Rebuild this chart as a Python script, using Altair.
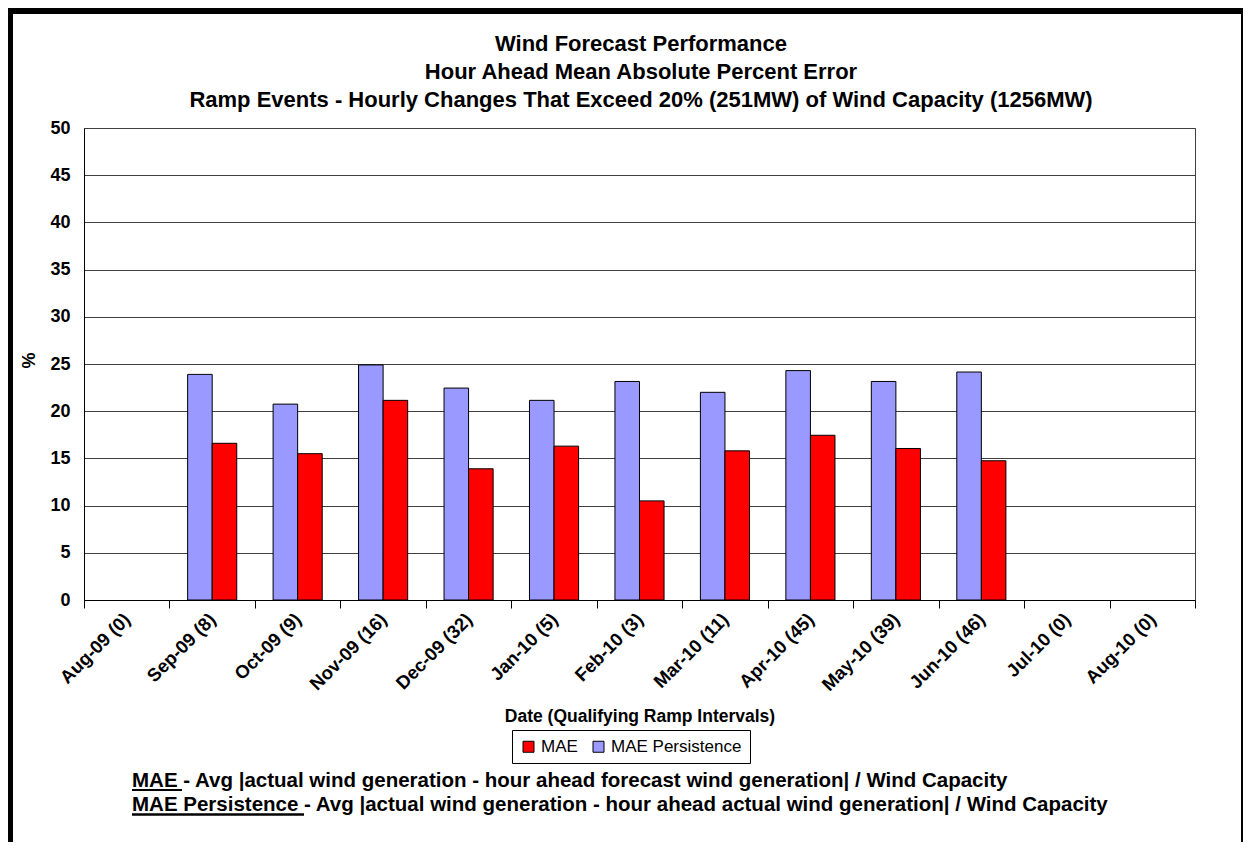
import altair as alt
import pandas as pd

months = ["Aug-09 (0)", "Sep-09 (8)", "Oct-09 (9)", "Nov-09 (16)", "Dec-09 (32)",
          "Jan-10 (5)", "Feb-10 (3)", "Mar-10 (11)", "Apr-10 (45)", "May-10 (39)",
          "Jun-10 (46)", "Jul-10 (0)", "Aug-10 (0)"]
bar_months = months[1:11]
mae = [16.6, 15.5, 21.15, 13.9, 16.3, 10.5, 15.8, 17.45, 16.05, 14.75]
mae_persistence = [23.9, 20.75, 24.9, 22.45, 21.15, 23.15, 22.0, 24.3, 23.15, 24.15]

series = ["MAE", "MAE Persistence"]
colors = ["#FF0000", "#9999FF"]

title_lines = ["Wind Forecast Performance",
               "Hour Ahead Mean Absolute Percent Error",
               "Ramp Events - Hourly Changes That Exceed 20% (251MW) of Wind Capacity (1256MW)"]
x_title = "Date (Qualifying Ramp Intervals)"
note1 = "MAE - Avg |actual wind generation - hour ahead forecast wind generation| / Wind Capacity"
note2 = "MAE Persistence - Avg |actual wind generation - hour ahead actual wind generation| / Wind Capacity"

rows = []
for m, a, p in zip(bar_months, mae, mae_persistence):
    rows.append({"month": m, "series": "MAE Persistence", "value": p})
    rows.append({"month": m, "series": "MAE", "value": a})
df = pd.DataFrame(rows)

FONT = "Liberation Sans"
W, H = 1111, 472

bars = alt.Chart(df).mark_bar(stroke="black", strokeWidth=1).encode(
    x=alt.X("month:N", sort=months,
            scale=alt.Scale(domain=months, paddingInner=0, paddingOuter=0),
            axis=alt.Axis(title=None, labelAngle=-45, labelAlign="right", labelBaseline="middle",
                          labelFont=FONT, labelFontSize=18.5, labelFontWeight="bold", labelColor="black",
                          labelPadding=8, tickBand="extent", tickSize=8, tickColor="black",
                          domainColor="black", grid=False)),
    xOffset=alt.XOffset("series:N", sort=["MAE Persistence", "MAE"],
                        scale=alt.Scale(paddingInner=0, paddingOuter=0.74)),
    y=alt.Y("value:Q", scale=alt.Scale(domain=[0, 50], nice=False),
            axis=alt.Axis(title="%", values=list(range(0, 51, 5)), labelFont=FONT, labelFontSize=18,
                          labelFontWeight="bold", labelColor="black", ticks=False, labelPadding=14,
                          domainColor="black", gridColor="#404040", gridWidth=1,
                          titleFont=FONT, titleFontSize=18, titleFontWeight="bold", titleColor="black",
                          titleX=-46, titleY=232)),
    color=alt.Color("series:N", scale=alt.Scale(domain=series, range=colors),
                    legend=alt.Legend(title=None, orient="none", legendX=428, legendY=602,
                                      direction="horizontal", fillColor="white", strokeColor="black",
                                      padding=8, labelFont=FONT, labelFontSize=17, labelColor="black",
                                      symbolType="square", symbolSize=121, symbolStrokeColor="black",
                                      symbolStrokeWidth=1, symbolOpacity=1, columnPadding=12,
                                      labelOffset=4)),
)


def text_layer(txt, x, y, size, align="center"):
    return alt.Chart(pd.DataFrame({"t": [txt]})).mark_text(
        font=FONT, fontSize=size, fontWeight="bold", color="black", align=align, baseline="alphabetic"
    ).encode(text="t:N", x=alt.value(x), y=alt.value(y))


def rule_layer(x, x2, y, y2, w):
    return alt.Chart(pd.DataFrame({"k": [0]})).mark_rule(color="black", strokeWidth=w).encode(
        x=alt.value(x), x2=alt.value(x2), y=alt.value(y), y2=alt.value(y2))


layers = [bars]
for i, line in enumerate(title_lines):
    layers.append(text_layer(line, 557, -77 + 28 * i, 22))
layers.append(text_layer(x_title, 556, 594, 17.5))
layers.append(text_layer(note1, 48, 659, 20.5, align="left"))
layers.append(text_layer(note2, 48, 683, 20.5, align="left"))
# underlines
layers.append(rule_layer(48, 98, 662, 662, 2))
layers.append(rule_layer(48, 220, 686.5, 686.5, 2.5))
# frame
layers.append(rule_layer(-73.5, -73.5, -120, 714, 5))
layers.append(rule_layer(-76, 1159, -117, -117, 6))
layers.append(rule_layer(1158, 1158, -120, 714, 2))

chart = alt.layer(*layers).properties(
    width=W, height=H,
    autosize=alt.AutoSizeParams(type="none"),
    padding={"left": 76, "top": 120, "right": 48, "bottom": 242},
    background="white",
).configure_view(stroke="#404040", strokeWidth=1)

chart.save("out.html", embed_options={"renderer": "svg", "actions": False})
